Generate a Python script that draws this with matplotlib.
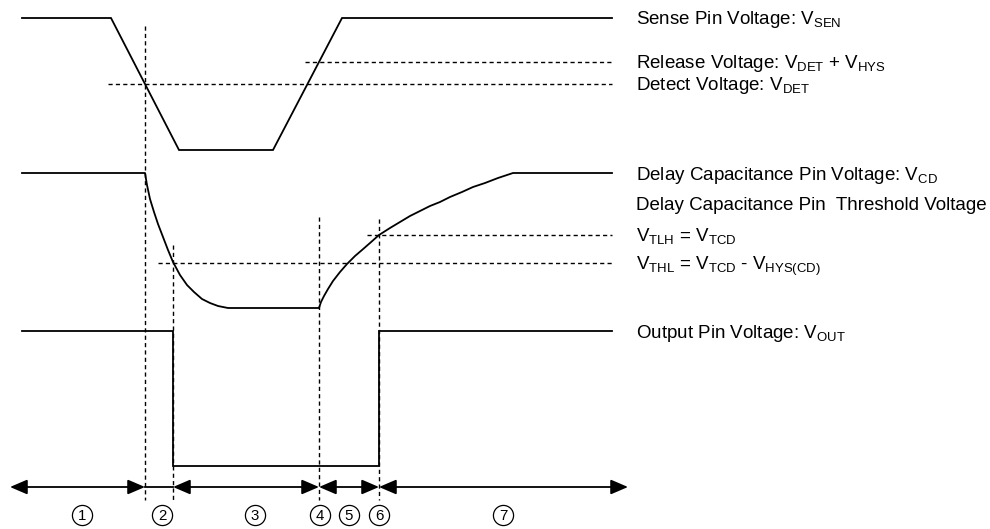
import matplotlib
matplotlib.use("Agg")
import matplotlib.pyplot as plt

plt.rcParams['font.family'] = ['Liberation Sans', 'DejaVu Sans']
plt.rcParams['mathtext.fontset'] = 'custom'
plt.rcParams['mathtext.rm'] = 'Liberation Sans'
plt.rcParams['mathtext.it'] = 'Liberation Sans'
plt.rcParams['mathtext.bf'] = 'Liberation Sans:bold'

# ---- waveform data (time in px-like units, level in px-like units, down = lower) ----
sen_t = [22, 111, 179, 273, 342, 612]
sen_v = [18, 18, 150, 150, 18, 18]

cd_t = [22, 145, 147, 150, 154, 158, 163, 168, 173, 180, 187, 194, 202, 210, 218, 228, 319,
        321, 324, 328, 333, 340, 347, 355, 362, 370, 379, 390, 400, 410, 420, 430, 440,
        450, 462, 473, 485, 498, 513, 612]
cd_v = [173, 173, 185, 199, 212, 224, 237, 250, 262, 275, 285, 292, 299, 303, 306, 308, 308,
        302, 296, 289, 281, 272, 264, 256, 250, 243, 235, 228, 222, 216, 211, 206, 202,
        197, 192, 187, 183, 178, 173, 173]

out_t = [22, 173, 173, 379, 379, 612]
out_v = [331, 331, 466, 466, 331, 331]

# threshold dashed lines: (level, x_start)
h_levels = [84, 62, 235, 263]
h_starts = [108, 305, 367, 158]
h_end = 612

# vertical event markers: (x, y_top)
v_x = [145, 173, 319, 379]
v_top = [26, 245, 217, 219]
v_bottom = 500

# period arrows
arrow_y = 487
arrow_segments = [(10, 145), (173, 319), (319, 379), (379, 628)]
plain_segments = [(145, 173)]
num_labels = ['1', '2', '3', '4', '5', '6', '7']
num_x = [82, 162, 255, 320, 349, 379, 503]
num_y = 515

label_x = 636
labels = [
    (18, r'Sense Pin Voltage: V$_{\mathrm{SEN}}$'),
    (62, r'Release Voltage: V$_{\mathrm{DET}}$ + V$_{\mathrm{HYS}}$'),
    (83, r'Detect Voltage: V$_{\mathrm{DET}}$'),
    (174, r'Delay Capacitance Pin Voltage: V$_{\mathrm{CD}}$'),
    (204, 'Delay Capacitance Pin  Threshold Voltage'),
    (235, r'V$_{\mathrm{TLH}}$ = V$_{\mathrm{TCD}}$'),
    (263, r'V$_{\mathrm{THL}}$ = V$_{\mathrm{TCD}}$ - V$_{\mathrm{HYS(CD)}}$'),
    (332, r'Output Pin Voltage: V$_{\mathrm{OUT}}$'),
]

fig = plt.figure(figsize=(9.9, 5.29), dpi=100)
ax = fig.add_axes([0, 0, 1, 1])
ax.set_xlim(0, 990)
ax.set_ylim(529, 0)
ax.axis('off')

solid_lw = 1.3
dash_kw = dict(color='black', lw=1.0, linestyle=(0, (3.0, 2.3)))

for lvl, xs in zip(h_levels, h_starts):
    ax.plot([xs, h_end], [lvl, lvl], **dash_kw)
for x, yt in zip(v_x, v_top):
    ax.plot([x, x], [yt, v_bottom], **dash_kw)

ax.plot(sen_t, sen_v, color='black', lw=solid_lw, solid_joinstyle='miter')
ax.plot(cd_t, cd_v, color='black', lw=solid_lw)
ax.plot(out_t, out_v, color='black', lw=solid_lw, solid_joinstyle='miter')

for a, b in arrow_segments:
    ax.annotate('', xy=(b, arrow_y), xytext=(a, arrow_y),
                arrowprops=dict(arrowstyle='<|-|>,head_length=10.5,head_width=4.5',
                                mutation_scale=1, color='black', lw=solid_lw,
                                shrinkA=0, shrinkB=0))
for a, b in plain_segments:
    ax.plot([a, b], [arrow_y, arrow_y], color='black', lw=solid_lw)

ax.plot(num_x, [num_y] * len(num_x), 'o', ms=14.5, mfc='white', mec='black', mew=0.9)
for s, x in zip(num_labels, num_x):
    ax.text(x, num_y + 5.3, s, ha='center', va='baseline', fontsize=10.8)

for y, s in labels:
    ax.text(label_x, y + 6.5, s, ha='left', va='baseline', fontsize=13.5)

fig.savefig('out.png', dpi=100)
